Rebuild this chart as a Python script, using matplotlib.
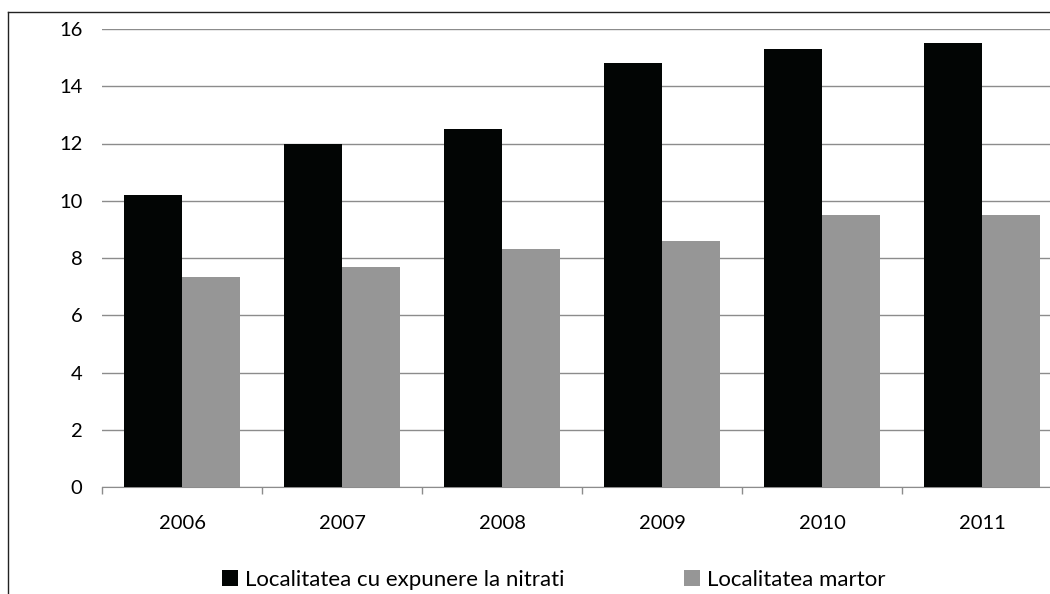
import matplotlib
matplotlib.use('Agg')
import matplotlib.pyplot as plt
import numpy as np

plt.rcParams['font.family'] = ['Lato', 'DejaVu Sans']

years = ['2006', '2007', '2008', '2009', '2010', '2011']
expunere = [10.2, 12.0, 12.5, 14.8, 15.3, 15.5]
martor = [7.35, 7.7, 8.3, 8.6, 9.5, 9.5]
labels = ['Localitatea cu expunere la nitrati', 'Localitatea martor']

fig = plt.figure(figsize=(10.5, 5.94), dpi=100)
# axes runs a bit past the right edge, like the cropped original
ax = fig.add_axes([102 / 1050, 1 - 487 / 594, 960 / 1050, 458 / 594])

x = np.arange(len(years))
w = 0.3625
ax.bar(x - w / 2, expunere, w, color='#020504', label=labels[0], zorder=3)
ax.bar(x + w / 2, martor, w, color='#969696', label=labels[1], zorder=3)

ax.set_xlim(-0.5, len(years) - 0.5)
ax.set_ylim(0, 16)
ax.set_yticks(range(0, 17, 2))
ax.yaxis.grid(True, color='#8c8c8c', linewidth=1)
ax.set_axisbelow(True)
ax.tick_params(axis='y', length=0, pad=14, labelsize=14.5)

ax.set_xticks(x)
ax.set_xticklabels(years)
ax.set_xticks(np.arange(-0.5, len(years), 1), minor=True)
ax.tick_params(axis='x', which='major', length=0, pad=20, labelsize=14.5)
ax.tick_params(axis='x', which='minor', length=5, color='#8c8c8c', width=1)

for s in ['top', 'right', 'left']:
    ax.spines[s].set_visible(False)
ax.spines['bottom'].set_color('#8c8c8c')

# chart frame (left and top edges visible)
fig.add_artist(plt.Line2D([7.5 / 1050, 7.5 / 1050], [0, 1 - 11.5 / 594], color='#222222', lw=1))
fig.add_artist(plt.Line2D([7.5 / 1050, 1], [1 - 11.5 / 594, 1 - 11.5 / 594], color='#222222', lw=1))

fig.legend(loc='center left', bbox_to_anchor=(222 / 1050, 1 - 580 / 594), ncol=2, frameon=False,
           fontsize=16, handlelength=0.72, handleheight=0.72, handletextpad=0.3,
           columnspacing=5.4, borderpad=0, borderaxespad=0)

fig.savefig('out.png', dpi=100)
